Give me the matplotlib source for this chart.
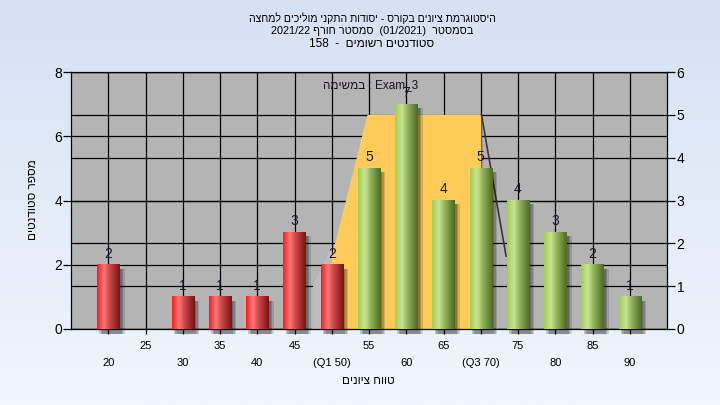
import re
import numpy as np
import matplotlib
matplotlib.use("Agg")
import matplotlib.pyplot as plt
from matplotlib.colors import LinearSegmentedColormap
from matplotlib.patches import Rectangle, Polygon

plt.rcParams['font.family'] = ['Liberation Sans', 'DejaVu Sans']

# ── Data ──────────────────────────────────────────────────────
grades = [20, 25, 30, 35, 40, 45, 50, 55, 60, 65, 70, 75, 80, 85, 90]
counts = [2, 0, 1, 1, 1, 3, 2, 5, 7, 4, 5, 4, 3, 2, 1]
pass_from = 55

upper_ticks = [25, 35, 45, 55, 65, 75, 85]
lower_ticks = [20, 30, 40, 50, 60, 70, 80, 90]
lower_labels = ["20", "30", "40", "(Q1 50)", "60", "(Q3 70)", "80", "90"]

# box shape, in right-axis units
box_x = [50, 50, 54.8, 70.1, 70.1]
box_y = [0, 1.68, 5, 5, 0]
whisk_lo_x = [47.4, 47.4, 50, 50]
whisk_lo_y = [0, 0.96, 1.96, 0]
whisk_hi_x = [70.1, 73.4]
whisk_hi_y = [5, 1.7]

title_lines = ["היסטוגרמת ציונים בקורס - יסודות התקני מוליכים למחצה",
               "בסמסטר  (01/2021)  סמסטר חורף 2021/22",
               "סטודנטים רשומים  -  158"]
title_sizes = [7.6, 7.8, 8.5]
task_label = "במשימה : Exam_3"
x_title = "טווח ציונים"
y_title = "מספר סטודנטים"

LEFT_MAX, RIGHT_MAX = 8, 6
K = LEFT_MAX / RIGHT_MAX


def rtl(s):
    """visual order for a right-to-left line (no bidi in matplotlib)"""
    runs = re.findall(r'[0-9A-Za-z_./]+|[^0-9A-Za-z_./]+', s)
    mirror = str.maketrans('()', ')(')
    out = []
    for r in reversed(runs):
        if re.match(r'[0-9A-Za-z_./]', r):
            out.append(r)
        else:
            out.append(r[::-1].translate(mirror))
    return ''.join(out)


def heb_ltr(s):
    return re.sub(r'[\u0590-\u05FF]+(?:\s+[\u0590-\u05FF]+)*',
                  lambda m: m.group(0)[::-1], s)


fig = plt.figure(figsize=(7.2, 4.05), dpi=100)

# ── background gradient ───────────────────────────────────────
bg = fig.add_axes([0, 0, 1, 1], zorder=-10)
grad = np.linspace(0, 1, 256).reshape(-1, 1)
bg_cmap = LinearSegmentedColormap.from_list("bg", ["#d5e2f3", "#eff6fd"])
bg.imshow(grad, aspect="auto", cmap=bg_cmap, extent=[0, 1, 0, 1])
bg.axis("off")

ax = fig.add_axes([71 / 720, 1 - 329 / 405, 596 / 720, 257 / 405])
ax.set_facecolor("#b4b4b4")
ax.set_xlim(15, 95)
ax.set_ylim(0, LEFT_MAX)
ax.set_autoscale_on(False)

# grid (under the box shape)
for g in range(20, 95, 5):
    ax.axvline(g, color="black", lw=0.9, zorder=0.5)
for v in range(0, LEFT_MAX + 1, 2):
    ax.axhline(v, color="black", lw=0.9, zorder=0.5)
for v in range(0, RIGHT_MAX + 1):
    ax.axhline(v * K, color="black", lw=0.9, zorder=0.5)

ax.add_patch(Polygon(list(zip(whisk_lo_x, np.array(whisk_lo_y) * K)),
                     closed=True, color="#bdbdbd", lw=0, zorder=1))
ax.add_patch(Polygon(list(zip(box_x, np.array(box_y) * K)),
                     closed=True, color="#fecb58", lw=0, zorder=1))
ax.plot(whisk_hi_x, np.array(whisk_hi_y) * K, color="#383838", lw=1.2, zorder=1.5)

# ── bars ─────────────────────────────────────────────────────
red = LinearSegmentedColormap.from_list(
    "r", [(0, "#ff1c1c"), (0.3, "#f87a7a"), (0.55, "#cf4646"), (1, "#761414")])
green = LinearSegmentedColormap.from_list(
    "g", [(0, "#a3cf4c"), (0.3, "#c9e496"), (0.55, "#93b45a"), (1, "#4c6a22")])
w = 3.0
h_grad = np.linspace(0, 1, 64).reshape(1, -1)
for g, c in zip(grades, counts):
    if c == 0:
        continue
    cmap = green if g >= pass_from else red
    for dx, a in [(0.3, 0.18), (0.5, 0.18), (0.7, 0.14)]:
        ax.add_patch(Rectangle((g - w / 2 + dx, -0.17), w, c + 0.05, color="black",
                               alpha=a, lw=0, zorder=2, clip_on=False))
    ax.imshow(h_grad, cmap=cmap, aspect="auto", interpolation="bilinear",
              extent=[g - w / 2, g + w / 2, 0, c], zorder=3)
    ax.annotate(str(c), (g, c), xytext=(0, 3), textcoords="offset points",
                ha="center", va="bottom", fontsize=10, color="#1a1a2a", zorder=4)

ax.text(0.423, 0.949, heb_ltr(task_label), transform=ax.transAxes, fontsize=8.5,
        ha="left", va="center", color="#1a1020", zorder=5)

# ── axes / ticks ─────────────────────────────────────────────
for s in ax.spines.values():
    s.set_color("black")
    s.set_linewidth(0.9)
ax.set_yticks(range(0, LEFT_MAX + 1, 2))
ax.tick_params(axis="y", length=5.5, width=0.9, pad=1, labelsize=10)
ax.set_xticks(upper_ticks)
ax.set_xticklabels([str(t) for t in upper_ticks])
ax.set_xticks(lower_ticks, minor=True)
ax.set_xticklabels(lower_labels, minor=True)
ax.tick_params(axis="x", which="major", length=3.6, width=0.9, pad=5, labelsize=8)
ax.tick_params(axis="x", which="minor", length=3.6, width=0.9, pad=17.5, labelsize=8)

ax2 = ax.twinx()
ax2.set_ylim(0, RIGHT_MAX)
ax2.set_yticks(range(0, RIGHT_MAX + 1))
ax2.tick_params(axis="y", length=5.5, width=0.9, pad=1.5, labelsize=10)
ax2.patch.set_visible(False)
for s in ax2.spines.values():
    s.set_visible(False)

# ── texts ────────────────────────────────────────────────────
for i, line in enumerate(title_lines):
    fig.text(372 / 720, 1 - (18 + 13 * i) / 405, rtl(line), ha="center", va="center",
             fontsize=title_sizes[i], color="black")
fig.text(368 / 720, 1 - 381 / 405, rtl(x_title), ha="center", va="center", fontsize=8.5)
fig.text(33 / 720, 1 - 200 / 405, rtl(y_title), ha="center", va="center",
         fontsize=8.5, rotation=90)

fig.savefig("out.png", dpi=100)
